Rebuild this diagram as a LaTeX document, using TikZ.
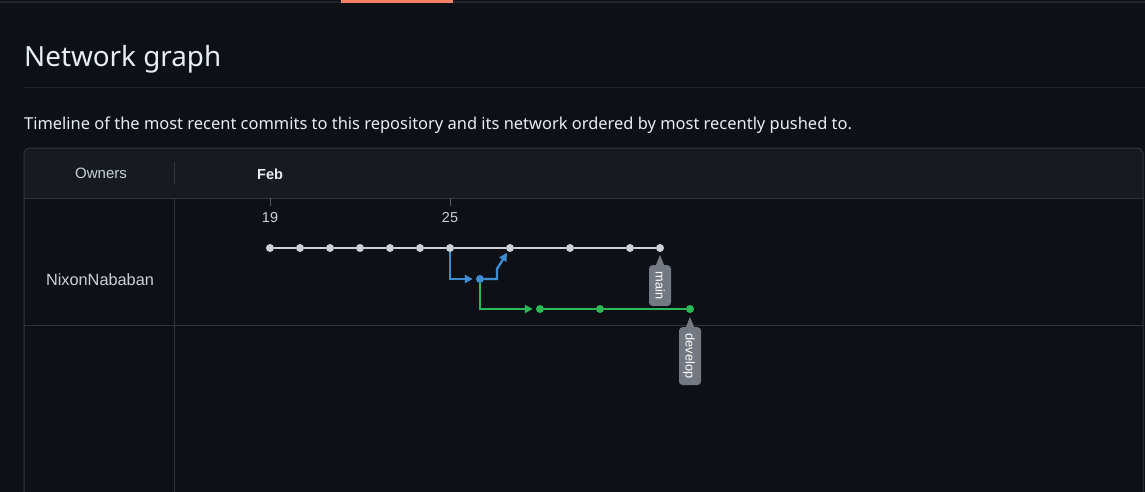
\documentclass[tikz,border=0pt]{standalone}
\usepackage{fontspec}
\setmainfont{Liberation Sans}
\newfontfamily\uifont{Noto Sans}
\usetikzlibrary{arrows.meta, positioning, calc}
\definecolor{pagebg}{RGB}{13,17,23}
\definecolor{headbg}{RGB}{22,27,34}
\definecolor{bordercolor}{RGB}{48,54,61}
\definecolor{rulecolor}{RGB}{33,38,45}
\definecolor{titlecolor}{RGB}{230,237,243}
\definecolor{textcolor}{RGB}{201,209,217}
\definecolor{tabcolor}{RGB}{247,129,102}
\definecolor{maincolor}{RGB}{205,210,217}
\definecolor{bluecolor}{RGB}{62,140,210}
\definecolor{greencolor}{RGB}{44,186,88}
\definecolor{tagcolor}{RGB}{115,121,131}

\begin{document}
\begin{tikzpicture}[
    x=1pt, y=-1pt,
    commit/.style={circle, inner sep=0pt, minimum size=8pt, fill=#1},
    mainline/.style={draw=maincolor, line width=2.4pt},
    branch/.style={draw=#1, line width=2.4pt, -{Triangle[length=8pt, width=8pt]}, shorten >=3pt},
    tag/.style={fill=tagcolor, text=white, rounded corners=3.5pt, rotate=-90, inner xsep=6.5pt,
        minimum height=22pt, text height=9pt, text depth=0pt, font=\fontsize{12.8}{14}\selectfont},
    label/.style={text=textcolor, inner sep=0pt},
    frame/.style={draw=bordercolor, line width=1pt}
]
    \useasboundingbox (0,0) rectangle (1145,492);
    \clip (0,0) rectangle (1145,492);
    \fill[pagebg] (0,0) rectangle (1145,492);

    % Top bar
    \draw[rulecolor, line width=1.2pt] (0,2) -- (1145,2);
    \fill[tabcolor] (341,0) rectangle (453,3);

    % Title and description
    \node[anchor=base west, inner sep=0pt, text=titlecolor, font=\uifont\fontsize{27.8}{32}\selectfont] (title) at (24,67) {Network graph};
    \draw[rulecolor, line width=1pt] (24,88) -- (1145,88);
    \node[anchor=base west, inner sep=0pt, text=titlecolor, font=\uifont\fontsize{16.45}{20}\selectfont] (desc) at (24,129.5)
        {Timeline of the most recent commits to this repository and its network ordered by most recently pushed to.};

    % Table frame
    \fill[headbg, rounded corners=6pt] (24,198) -- (24,148) -- (1143,148) -- (1143,198);
    \draw[frame, rounded corners=6pt] (24,500) -- (24,148) -- (1143,148) -- (1143,500);
    \draw[frame] (24,198) -- (1143,198);
    \draw[frame] (24,325.5) -- (1143,325.5);
    \draw[frame] (174,162) -- (174,185);
    \draw[frame] (174,198) -- (174,500);

    % Header row
    \node[label, anchor=base, font=\fontsize{15}{18}\selectfont] (owners) at (101,178) {Owners};
    \node[label, anchor=base west, text=titlecolor, font=\bfseries\fontsize{14.6}{18}\selectfont] (feb) at (257,179) {Feb};
    \node[label, anchor=base, font=\fontsize{16.3}{20}\selectfont] (owner) at (100,285) {NixonNababan};

    % Day ticks
    \draw[bordercolor!80!white, line width=1pt] (270,198) -- (270,206);
    \draw[bordercolor!80!white, line width=1pt] (450,198) -- (450,206);
    \node[label, anchor=base, font=\fontsize{14.4}{18}\selectfont] (d19) at (270,222) {19};
    \node[label, anchor=base, font=\fontsize{14.4}{18}\selectfont] (d25) at (450,222) {25};

    % Commits on main
    \foreach \x [count=\i] in {270,300,330,360,390,420,450,510,570,630,660}
        \node[commit=maincolor] (c\i) at (\x,248) {};
    \foreach \i in {1,...,10} {
        \pgfmathtruncatemacro\j{\i+1}
        \draw[mainline] (c\i) -- (c\j);
    }

    % Side branch and develop
    \node[commit=bluecolor] (b1) at (480,279) {};
    \node[commit=greencolor] (g1) at (540,309) {};
    \node[commit=greencolor] (g2) at (600,309) {};
    \node[commit=greencolor] (g3) at (690,309) {};

    \draw[branch=bluecolor] (c7) |- (b1);
    \draw[branch=bluecolor, shorten >=1.5pt] (b1) -- ++(17,0) -- ++(0,-10) -- (c8);
    \draw[branch=greencolor] (b1) |- (g1);
    \draw[mainline, draw=greencolor] (g1) -- (g2) -- (g3);

    % Branch tags
    \node[tag, anchor=west] (mainTag) at (660,265) {main};
    \fill[tagcolor] ($(mainTag.west)+(-4.5,1)$) -- ($(c11)+(0,7)$) -- ($(mainTag.west)+(4.5,1)$) -- cycle;
    \node[tag, anchor=west] (devTag) at (690,327) {develop};
    \fill[tagcolor] ($(devTag.west)+(-4.5,1)$) -- ($(g3)+(0,8)$) -- ($(devTag.west)+(4.5,1)$) -- cycle;
\end{tikzpicture}
\end{document}
